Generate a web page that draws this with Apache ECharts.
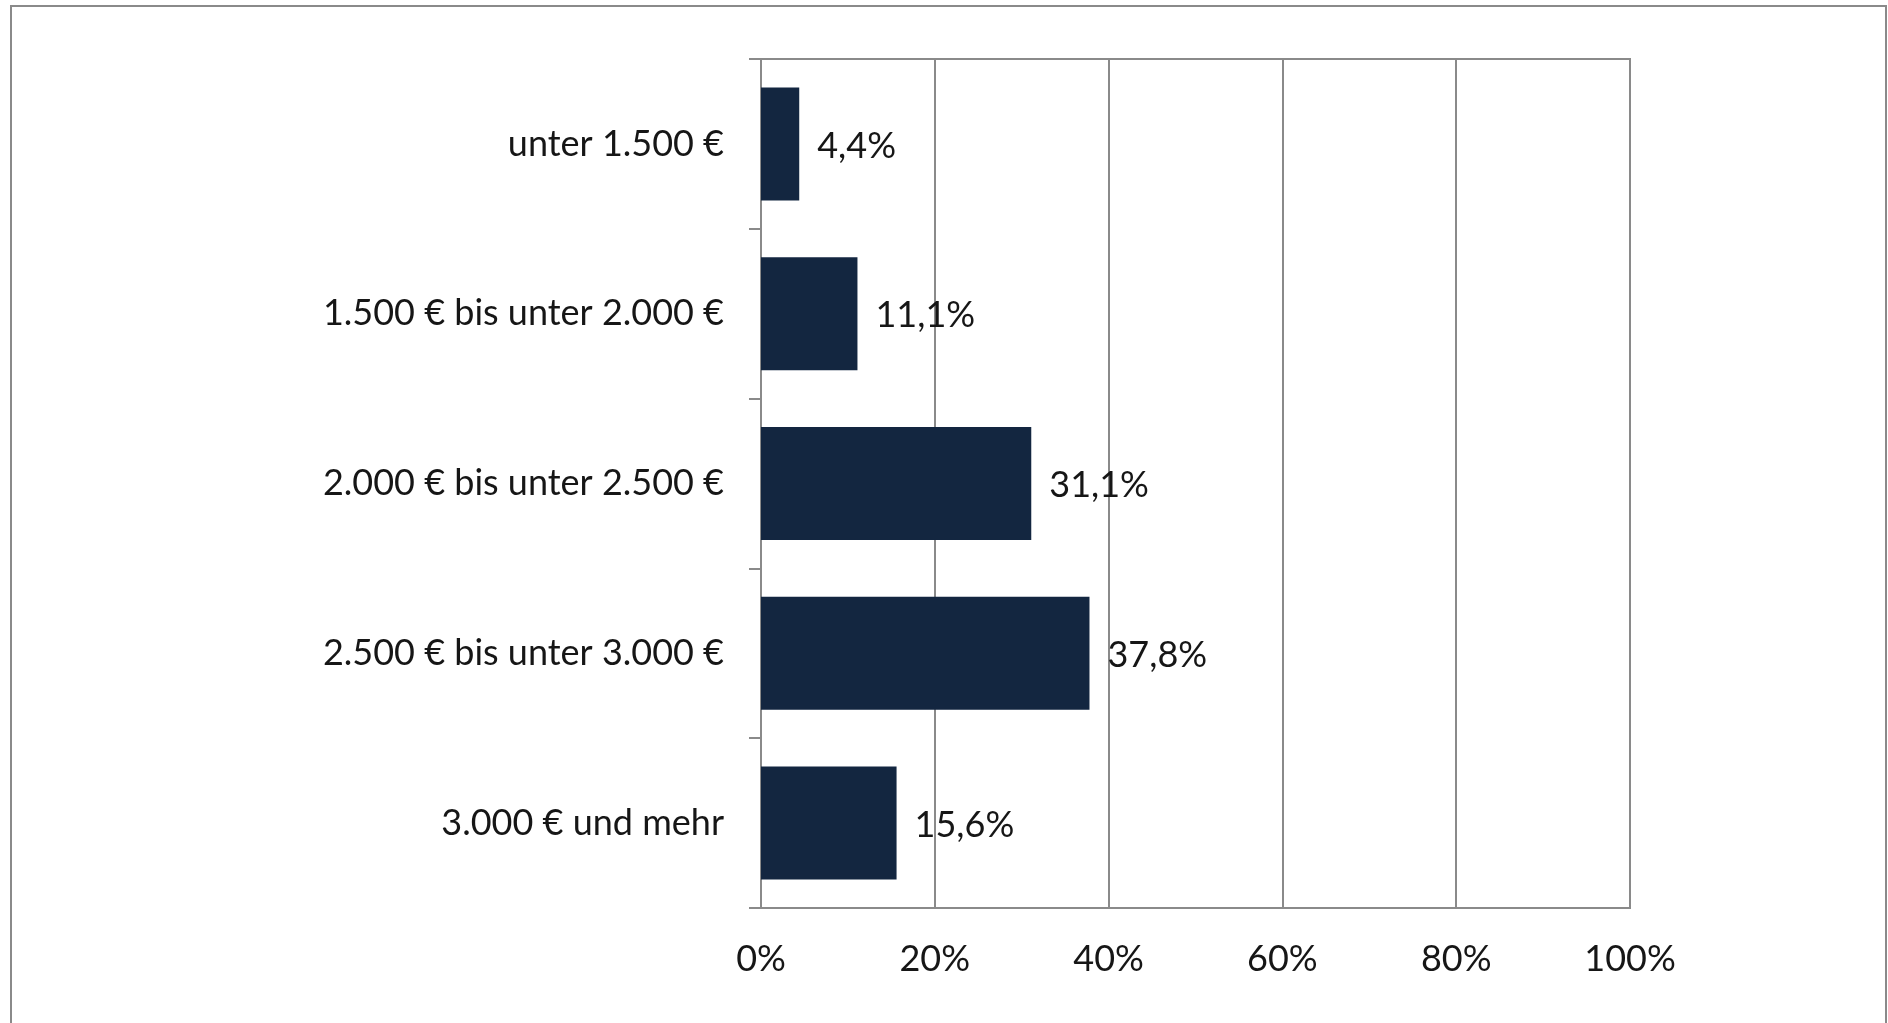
<!DOCTYPE html>
<html>
<head>
<meta charset="utf-8">
<script src="https://cdn.jsdelivr.net/npm/echarts@6/dist/echarts.min.js"></script>
<style>
html,body{margin:0;padding:0;background:#fff;}
#chart{width:1888px;height:1023px;}
</style>
</head>
<body>
<div id="chart"></div>
<script>
var categories = ['unter 1.500 €', '1.500 € bis unter 2.000 €', '2.000 € bis unter 2.500 €', '2.500 € bis unter 3.000 €', '3.000 € und mehr'];
var values = [4.4, 11.1, 31.1, 37.8, 15.6];
var xTicks = [0, 20, 40, 60, 80, 100];

var FONT = 'Lato';
var FS = 36;
var GRAY = '#8a8a8a';
var TXT = '#161616';

var chart = echarts.init(document.getElementById('chart'), null, {renderer: 'canvas'});
chart.setOption({
  backgroundColor: '#ffffff',
  animation: false,
  graphic: [{
    type: 'rect',
    shape: {x: 11, y: 6, width: 1875, height: 1040},
    style: {fill: 'none', stroke: GRAY, lineWidth: 2},
    silent: true
  }],
  grid: {
    left: 761, right: 258, top: 59, bottom: 115,
    containLabel: false,
    show: true, borderColor: GRAY, borderWidth: 2, backgroundColor: 'transparent'
  },
  xAxis: {
    type: 'value',
    min: xTicks[0], max: xTicks[xTicks.length - 1], interval: xTicks[1] - xTicks[0],
    axisLine: {show: true, lineStyle: {color: GRAY, width: 2}},
    axisTick: {show: false},
    splitLine: {show: true, lineStyle: {color: GRAY, width: 2}},
    axisLabel: {
      formatter: '{value}%', margin: 33,
      fontFamily: FONT, fontSize: FS, fontWeight: 400, color: TXT
    }
  },
  yAxis: {
    type: 'category',
    data: categories,
    inverse: true,
    axisLine: {show: true, lineStyle: {color: GRAY, width: 2}},
    axisTick: {show: true, length: 12, lineStyle: {color: GRAY, width: 2}},
    splitLine: {show: false},
    axisLabel: {
      margin: 37, fontFamily: FONT, fontSize: FS, fontWeight: 400, color: TXT
    }
  },
  series: [{
    type: 'bar',
    data: values,
    barWidth: 113,
    itemStyle: {color: '#132640'},
    label: {
      show: true, position: 'right', distance: 18, offset: [0, 2],
      formatter: function (p) { return p.value.toFixed(1).replace('.', ',') + '%'; },
      fontFamily: FONT, fontSize: FS, fontWeight: 400, color: TXT
    }
  }]
});
</script>
</body>
</html>
